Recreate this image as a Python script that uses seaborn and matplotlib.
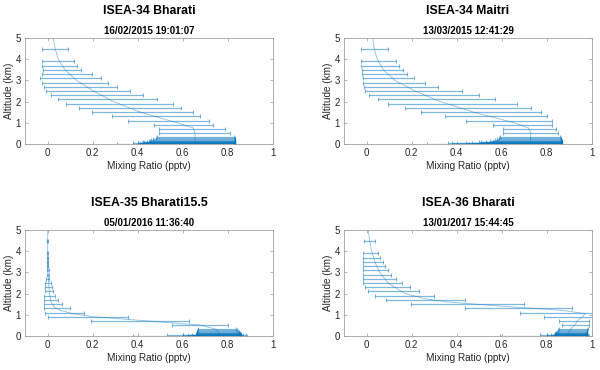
import numpy as np
import pandas as pd
import matplotlib
matplotlib.use('Agg')
import matplotlib.pyplot as plt
import seaborn as sns

# altitude levels (km) of the error bars
ALT_LEVELS = [4.5, 3.9, 3.7, 3.5, 3.3, 3.1, 2.9, 2.7, 2.5, 2.3, 2.1, 1.9, 1.7, 1.5, 1.3, 1.1, 0.9, 0.7, 0.5, 0.3]
ALT_GROUND = [0.25, 0.2, 0.17, 0.14, 0.12, 0.1, 0.08, 0.06, 0.045, 0.03, 0.02, 0.01, 0.0]
LINE_ALT = [5, 4.5, 4.0, 3.5, 3.0, 2.5, 2.0, 1.5, 1.0, 0.75, 0.5, 0.25, 0.0]

# ISEA-34 Bharati
P1_LO = [-0.024, -0.024, -0.024, -0.019, -0.027, -0.033, -0.025, -0.018, -0.006, 0.013,
         0.046, 0.080, 0.138, 0.196, 0.287, 0.359, 0.471, 0.496, 0.496, 0.484]
P1_HI = [0.089, 0.117, 0.129, 0.150, 0.199, 0.236, 0.267, 0.307, 0.367, 0.425,
         0.487, 0.556, 0.593, 0.646, 0.677, 0.717, 0.736, 0.786, 0.811, 0.830]
P1_GLO = [0.48, 0.47, 0.46, 0.455, 0.45, 0.44, 0.43, 0.425, 0.42, 0.41, 0.40, 0.38, 0.31]
P1_GHI = [0.831, 0.832, 0.833, 0.833, 0.834, 0.834, 0.834, 0.833, 0.833, 0.832, 0.832, 0.831, 0.83]
P1_LINE = [0.025, 0.033, 0.047, 0.077, 0.129, 0.203, 0.292, 0.41, 0.573, 0.647, 0.655, 0.655, 0.655]

# ISEA-34 Maitri
P2_LO = [-0.024, -0.024, -0.024, -0.022, -0.021, -0.018, -0.015, -0.012, -0.006, 0.012,
         0.052, 0.096, 0.170, 0.240, 0.350, 0.441, 0.560, 0.604, 0.604, 0.593]
P2_HI = [0.096, 0.129, 0.142, 0.160, 0.181, 0.210, 0.259, 0.319, 0.423, 0.497,
         0.572, 0.667, 0.730, 0.775, 0.800, 0.825, 0.825, 0.840, 0.852, 0.860]
P2_GLO = [0.59, 0.58, 0.57, 0.56, 0.55, 0.53, 0.51, 0.50, 0.47, 0.44, 0.38, 0.36, 0.27]
P2_GHI = [0.862, 0.864, 0.865, 0.866, 0.867, 0.867, 0.866, 0.866, 0.865, 0.864, 0.863, 0.862, 0.86]
P2_LINE = [0.027, 0.033, 0.047, 0.074, 0.126, 0.215, 0.326, 0.474, 0.652, 0.719, 0.729, 0.728, 0.726]

# ISEA-35 Bharati15.5
P3_LO = [-0.001, -0.001, -0.0015, -0.002, -0.003, -0.004, -0.005, -0.007, -0.010, -0.012,
         -0.013, -0.016, -0.018, -0.018, -0.018, -0.012, 0.0, 0.193, 0.554, 0.668]
P3_HI = [0.001, 0.001, 0.0015, 0.002, 0.003, 0.004, 0.005, 0.007, 0.013, 0.018,
         0.025, 0.033, 0.044, 0.064, 0.097, 0.163, 0.356, 0.629, 0.803, 0.837]
P3_GLO = [0.668, 0.665, 0.665, 0.664, 0.663, 0.662, 0.66, 0.66, 0.64, 0.625, 0.60, 0.53, 0.38]
P3_GHI = [0.84, 0.845, 0.85, 0.852, 0.853, 0.855, 0.856, 0.857, 0.858, 0.86, 0.87, 0.88, 0.887]
P3_LINE_ALT = [5, 4.5, 4.0, 3.5, 3.0, 2.5, 2.0, 1.6, 1.35, 1.2, 1.05, 0.9, 0.72, 0.5, 0.3, 0.15, 0.0]
P3_LINE = [0.0, 0.0, 0.0, 0.001, 0.002, 0.004, 0.008, 0.015, 0.03, 0.055, 0.11, 0.2, 0.42, 0.68, 0.75, 0.76, 0.76]

# ISEA-36 Bharati
P4_LO = [-0.012, -0.015, -0.016, -0.018, -0.018, -0.018, -0.018, -0.016, -0.015, -0.009,
         0.007, 0.036, 0.084, 0.199, 0.439, 0.680, 0.789, 0.855, 0.868, 0.855]
P4_HI = [0.036, 0.052, 0.061, 0.072, 0.082, 0.093, 0.110, 0.129, 0.159, 0.191,
         0.232, 0.301, 0.436, 0.700, 0.911, 1.15, 1.10, 0.990, 0.988, 0.982]
P4_GLO = [0.85, 0.848, 0.845, 0.842, 0.84, 0.838, 0.836, 0.835, 0.834, 0.82, 0.80, 0.77, 0.593]
P4_GHI = [0.979, 0.978, 0.978, 0.977, 0.977, 0.977, 0.976, 0.976, 0.976, 0.977, 0.98, 0.985, 0.99]
P4_LINE_ALT = [5, 4.5, 4.0, 3.5, 3.0, 2.5, 2.0, 1.75, 1.6, 1.4, 1.2, 1.05, 0.9, 0.7, 0.5, 0.3, 0.1, 0.0]
P4_LINE = [0.007, 0.013, 0.022, 0.036, 0.058, 0.095, 0.17, 0.26, 0.36, 0.6, 0.87, 0.97,
           0.96, 0.935, 0.925, 0.905, 0.895, 0.89]

TITLES = ['ISEA-34 Bharati', 'ISEA-34 Maitri', 'ISEA-35 Bharati15.5', 'ISEA-36 Bharati']
DATES = ['16/02/2015 19:01:07', '13/03/2015 12:41:29', '05/01/2016 11:36:40', '13/01/2017 15:44:45']
XTICKS = [0, 0.2, 0.4, 0.6, 0.8, 1]
XTICKLABELS = ['0', '0.2', '0.4', '0.6', '0.8', '1']
YTICKS = [0, 1, 2, 3, 4, 5]

sns.set_theme(style='ticks')
plt.rcParams['font.family'] = ['Liberation Sans', 'DejaVu Sans']

BLUE = '#0072BD'
TEXT = '#262626'

panels = [
    (P1_LO, P1_HI, P1_GLO, P1_GHI, LINE_ALT, P1_LINE),
    (P2_LO, P2_HI, P2_GLO, P2_GHI, LINE_ALT, P2_LINE),
    (P3_LO, P3_HI, P3_GLO, P3_GHI, P3_LINE_ALT, P3_LINE),
    (P4_LO, P4_HI, P4_GLO, P4_GHI, P4_LINE_ALT, P4_LINE),
]

fig = plt.figure(figsize=(6, 3.7), dpi=100)
lefts = [0.042, 0.5737]
bottoms = [0.6116, 0.0927]
w, h = 0.4125, 0.285

for i, (lo, hi, glo, ghi, lalt, lx) in enumerate(panels):
    ax = fig.add_axes([lefts[i % 2], bottoms[i // 2], w, h])
    bars = pd.DataFrame({'alt': ALT_LEVELS + ALT_GROUND,
                         'lo': lo + glo, 'hi': hi + ghi})
    bars['mid'] = (bars['lo'] + bars['hi']) / 2
    ax.errorbar(bars['mid'], bars['alt'],
                xerr=[bars['mid'] - bars['lo'], bars['hi'] - bars['mid']],
                fmt='none', ecolor=BLUE, elinewidth=0.9, capsize=1.3,
                capthick=0.8, alpha=0.5)
    line = pd.DataFrame({'x': lx, 'alt': lalt})
    sns.lineplot(data=line, x='x', y='alt', sort=False, estimator=None,
                 color=BLUE, lw=0.6, alpha=0.45, ax=ax)

    ax.set_xlim(-0.1, 1)
    ax.set_ylim(0, 5)
    ax.set_xticks(XTICKS)
    ax.set_xticklabels(XTICKLABELS)
    ax.set_yticks(YTICKS)
    ax.tick_params(direction='in', length=2.5, width=0.5, top=True, right=True,
                   labelsize=7, colors='#999999', labelcolor=TEXT, pad=3)
    for s in ax.spines.values():
        s.set_color('#a0a0a0')
        s.set_linewidth(0.6)
    ax.set_xlabel('Mixing Ratio (pptv)', fontsize=7.2, color=TEXT, labelpad=2)
    ax.set_ylabel('Altitude (km)', fontsize=7.2, color=TEXT, labelpad=1)
    ax.set_title(DATES[i], fontsize=7, fontweight='bold', color='black', pad=3)
    cx = lefts[i % 2] + w / 2
    ty = bottoms[i // 2] + h + 0.075
    fig.text(cx, ty, TITLES[i], ha='center', va='center', fontsize=8.8,
             fontweight='bold', color='black')

fig.savefig('out.png', dpi=100, facecolor='white')
